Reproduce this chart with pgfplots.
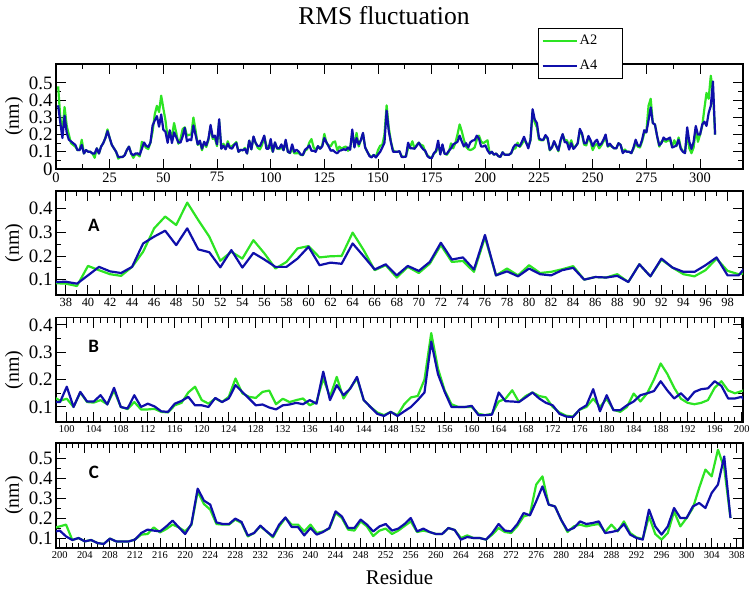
\documentclass[border=0pt]{standalone}
\usepackage{fontspec}
\setmainfont{Liberation Serif}
\newfontfamily\panelfont{Carlito}
\usepackage{pgfplots}
\usepackage{pgfplotstable}
\pgfplotsset{compat=1.18}
\definecolor{cA}{RGB}{45,228,35}
\definecolor{cB}{RGB}{15,15,170}
\pgfplotstableread{
r a2 a4
1 0.48 0.37
2 0.30 0.27
3 0.22 0.18
4 0.36 0.31
5 0.25 0.21
6 0.20 0.17
7 0.15 0.16
8 0.14 0.15
9 0.13 0.14
10 0.11 0.11
11 0.11 0.11
12 0.17 0.14
13 0.09 0.09
14 0.11 0.11
15 0.10 0.10
16 0.10 0.10
17 0.09 0.09
18 0.065 0.09
19 0.12 0.12
20 0.09 0.09
21 0.13 0.13
22 0.15 0.15
23 0.18 0.18
24 0.23 0.22
25 0.18 0.18
26 0.14 0.14
27 0.12 0.12
28 0.10 0.10
29 0.06 0.07
30 0.07 0.07
31 0.07 0.07
32 0.08 0.08
33 0.11 0.11
34 0.13 0.13
35 0.09 0.09
36 0.065 0.08
37 0.085 0.09
38 0.083 0.091
39 0.073 0.083
40 0.158 0.118
41 0.140 0.154
42 0.123 0.135
43 0.116 0.128
44 0.154 0.154
45 0.218 0.253
46 0.317 0.282
47 0.367 0.307
48 0.331 0.246
49 0.426 0.317
50 0.352 0.228
51 0.282 0.216
52 0.180 0.152
53 0.218 0.225
54 0.189 0.151
55 0.267 0.213
56 0.211 0.185
57 0.147 0.154
58 0.175 0.154
59 0.232 0.189
60 0.242 0.239
61 0.194 0.161
62 0.199 0.172
63 0.200 0.167
64 0.299 0.253
65 0.225 0.199
66 0.140 0.143
67 0.161 0.165
68 0.109 0.118
69 0.154 0.158
70 0.128 0.137
71 0.168 0.175
72 0.246 0.256
73 0.175 0.185
74 0.179 0.194
75 0.133 0.143
76 0.279 0.289
77 0.118 0.118
78 0.147 0.135
79 0.118 0.114
80 0.161 0.147
81 0.128 0.123
82 0.133 0.118
83 0.144 0.140
84 0.157 0.150
85 0.100 0.100
86 0.111 0.111
87 0.109 0.109
88 0.123 0.116
89 0.090 0.090
90 0.165 0.165
91 0.114 0.114
92 0.185 0.189
93 0.151 0.151
94 0.123 0.133
95 0.114 0.133
96 0.140 0.161
97 0.189 0.194
98 0.137 0.118
99 0.123 0.118
100 0.13 0.174
101 0.10 0.10
102 0.153 0.155
103 0.118 0.12
104 0.116 0.12
105 0.125 0.143
106 0.11 0.109
107 0.16 0.17
108 0.10 0.10
109 0.092 0.094
110 0.118 0.143
111 0.091 0.10
112 0.091 0.112
113 0.093 0.102
114 0.082 0.084
115 0.08 0.082
116 0.106 0.112
117 0.115 0.122
118 0.153 0.137
119 0.174 0.106
120 0.125 0.106
121 0.112 0.10
122 0.131 0.133
123 0.118 0.118
124 0.137 0.131
125 0.204 0.18
126 0.15 0.155
127 0.137 0.131
128 0.133 0.106
129 0.155 0.109
130 0.16 0.098
131 0.11 0.091
132 0.13 0.106
133 0.118 0.109
134 0.125 0.115
135 0.131 0.11
136 0.106 0.125
137 0.118 0.112
138 0.204 0.229
139 0.137 0.125
140 0.21 0.18
141 0.131 0.143
142 0.169 0.167
143 0.204 0.21
144 0.125 0.125
145 0.10 0.10
146 0.08 0.075
147 0.07 0.067
148 0.082 0.082
149 0.07 0.067
150 0.11 0.084
151 0.135 0.10
152 0.14 0.125
153 0.20 0.153
154 0.37 0.339
155 0.24 0.22
156 0.16 0.155
157 0.11 0.10
158 0.10 0.10
159 0.10 0.10
160 0.10 0.104
161 0.075 0.07
162 0.07 0.07
163 0.075 0.072
164 0.12 0.153
165 0.13 0.121
166 0.161 0.12
167 0.118 0.118
168 0.14 0.135
169 0.153 0.153
170 0.14 0.131
171 0.135 0.115
172 0.10 0.106
173 0.08 0.075
174 0.068 0.065
175 0.065 0.063
176 0.09 0.091
177 0.10 0.106
178 0.13 0.165
179 0.10 0.084
180 0.13 0.143
181 0.09 0.088
182 0.082 0.088
183 0.10 0.106
184 0.149 0.12
185 0.12 0.143
186 0.15 0.15
187 0.20 0.158
188 0.259 0.194
189 0.22 0.16
190 0.17 0.131
191 0.13 0.15
192 0.115 0.125
193 0.11 0.155
194 0.115 0.165
195 0.125 0.168
196 0.17 0.194
197 0.194 0.177
198 0.16 0.131
199 0.15 0.131
200 0.158 0.137
201 0.167 0.108
202 0.09 0.09
203 0.10 0.10
204 0.083 0.083
205 0.09 0.09
206 0.075 0.075
207 0.07 0.07
208 0.097 0.097
209 0.083 0.083
210 0.083 0.083
211 0.083 0.083
212 0.092 0.092
213 0.117 0.125
214 0.12 0.142
215 0.153 0.137
216 0.128 0.133
217 0.145 0.158
218 0.167 0.187
219 0.153 0.153
220 0.133 0.12
221 0.165 0.17
222 0.333 0.347
223 0.27 0.287
224 0.242 0.267
225 0.17 0.178
226 0.167 0.17
227 0.167 0.17
228 0.192 0.197
229 0.175 0.18
230 0.108 0.112
231 0.125 0.125
232 0.158 0.162
233 0.133 0.133
234 0.103 0.108
235 0.158 0.167
236 0.20 0.203
237 0.167 0.155
238 0.167 0.155
239 0.133 0.113
240 0.167 0.15
241 0.125 0.117
242 0.133 0.13
243 0.147 0.15
244 0.225 0.233
245 0.20 0.208
246 0.142 0.15
247 0.137 0.15
248 0.183 0.192
249 0.158 0.167
250 0.11 0.133
251 0.137 0.158
252 0.147 0.17
253 0.12 0.137
254 0.137 0.147
255 0.16 0.17
256 0.183 0.20
257 0.13 0.133
258 0.137 0.147
259 0.13 0.13
260 0.12 0.12
261 0.12 0.12
262 0.15 0.15
263 0.14 0.14
264 0.10 0.092
265 0.113 0.105
266 0.10 0.10
267 0.10 0.10
268 0.092 0.092
269 0.117 0.125
270 0.15 0.17
271 0.13 0.137
272 0.125 0.133
273 0.16 0.17
274 0.208 0.225
275 0.217 0.213
276 0.367 0.283
277 0.408 0.358
278 0.267 0.267
279 0.258 0.258
280 0.19 0.19
281 0.13 0.137
282 0.158 0.15
283 0.167 0.183
284 0.158 0.17
285 0.165 0.175
286 0.17 0.183
287 0.13 0.125
288 0.167 0.13
289 0.133 0.137
290 0.183 0.17
291 0.125 0.117
292 0.103 0.10
293 0.095 0.092
294 0.208 0.242
295 0.12 0.158
296 0.092 0.117
297 0.125 0.158
298 0.233 0.25
299 0.158 0.20
300 0.20 0.20
301 0.25 0.258
302 0.35 0.275
303 0.442 0.25
304 0.408 0.325
305 0.542 0.367
306 0.45 0.508
307 0.20 0.20
}\rms
\pgfplotsset{
  rmsax/.style={
    scale only axis, width=687bp,
    axis line style={line width=1.3bp},
    every tick/.style={line width=1bp, black},
    major tick length=10bp, minor tick length=5bp,
    /pgf/number format/assume math mode=true,
    /pgf/number format/fixed, /pgf/number format/precision=1,
    yticklabel style={font=\fontsize{19}{19}\selectfont},
    ylabel={(nm)},
    every axis y label/.style={at={(axis description cs:0,0.5)}, xshift=-42bp, rotate=90, anchor=center, font=\fontsize{20}{20}\selectfont},
    clip=true,
  },
  gline/.style={cA, line width=2.2bp, line join=round},
  bline/.style={cB, line width=2.2bp, line join=round},
}
\begin{document}
\begin{tikzpicture}
\path[use as bounding box] (0,0) rectangle (750bp,-589bp);
\node[font=\fontsize{25.7}{26}\selectfont] at (384bp,-16bp) {RMS fluctuation};
% top panel
\begin{axis}[rmsax, at={(56bp,-169bp)}, anchor=south west, height=105bp,
  xmin=0, xmax=320, ymin=0, ymax=0.61,
  xtick={0,25,50,75,100,125,150,175,200,225,250,275,300}, minor x tick num=1,
  ytick={0,0.1,0.2,0.3,0.4,0.5}, minor y tick num=1,
  xticklabel style={font=\fontsize{14.5}{14.5}\selectfont},
  xticklabel={\pgfmathprintnumber[fixed,precision=0]{\tick}},
  legend style={at={(rel axis cs:0.7016,1.343)}, anchor=north west, draw=black, line width=0.8bp, fill=white, font=\fontsize{14.5}{14.5}\selectfont, inner xsep=3bp, inner ysep=5bp, row sep=10bp},
  legend cell align=left,
  legend image code/.code={\path (0bp,0bp) -- (34bp,0bp); \draw[#1] (4bp,0bp) -- (32bp,0bp);},
]
\addplot[gline] table[x=r,y=a2]{\rms};
\addplot[bline] table[x=r,y=a4]{\rms};
\legend{\makebox[38bp][l]{A2},\makebox[38bp][l]{A4}}
\end{axis}
% panel A
\begin{axis}[rmsax, at={(56bp,-295bp)}, anchor=south west, height=104bp,
  xmin=37.1, xmax=99.4, ymin=0.035, ymax=0.475,
  xtick={38,40,...,98}, minor x tick num=1,
  ytick={0.1,0.2,0.3,0.4}, minor y tick num=1,
  xticklabel style={font=\fontsize{12.5}{12.5}\selectfont},
  xticklabel={\pgfmathprintnumber[fixed,precision=0]{\tick}},
]
\addplot[gline] table[x=r,y=a2]{\rms};
\addplot[bline] table[x=r,y=a4]{\rms};
\node[font=\panelfont\bfseries\fontsize{19}{19}\selectfont] at (rel axis cs:0.055,0.67) {A};
\end{axis}
% panel B
\begin{axis}[rmsax, at={(56bp,-422bp)}, anchor=south west, height=104.5bp,
  xmin=98.4, xmax=200.2, ymin=0.045, ymax=0.427,
  xtick={100,104,...,200}, minor x tick num=3,
  ytick={0.1,0.2,0.3,0.4}, minor y tick num=1,
  xticklabel style={font=\fontsize{10.5}{10.5}\selectfont},
  xticklabel={\pgfmathprintnumber[fixed,precision=0]{\tick}},
]
\addplot[gline] table[x=r,y=a2]{\rms};
\addplot[bline] table[x=r,y=a4]{\rms};
\node[font=\panelfont\bfseries\fontsize{19}{19}\selectfont] at (rel axis cs:0.055,0.72) {B};
\end{axis}
% panel C
\begin{axis}[rmsax, at={(56bp,-548bp)}, anchor=south west, height=105bp,
  xmin=199.4, xmax=309, ymin=0.05, ymax=0.575,
  xtick={200,204,...,308}, minor x tick num=3,
  ytick={0.1,0.2,0.3,0.4,0.5}, minor y tick num=1,
  xticklabel style={font=\fontsize{10.5}{10.5}\selectfont},
  xticklabel={\pgfmathprintnumber[fixed,precision=0]{\tick}},
  xlabel={Residue},
  every axis x label/.style={at={(axis description cs:0.5,0)}, yshift=-29bp, anchor=center, font=\fontsize{21}{21}\selectfont},
]
\addplot[gline] table[x=r,y=a2]{\rms};
\addplot[bline] table[x=r,y=a4]{\rms};
\node[font=\panelfont\bfseries\fontsize{19}{19}\selectfont] at (rel axis cs:0.055,0.72) {C};
\end{axis}
\end{tikzpicture}
\end{document}
